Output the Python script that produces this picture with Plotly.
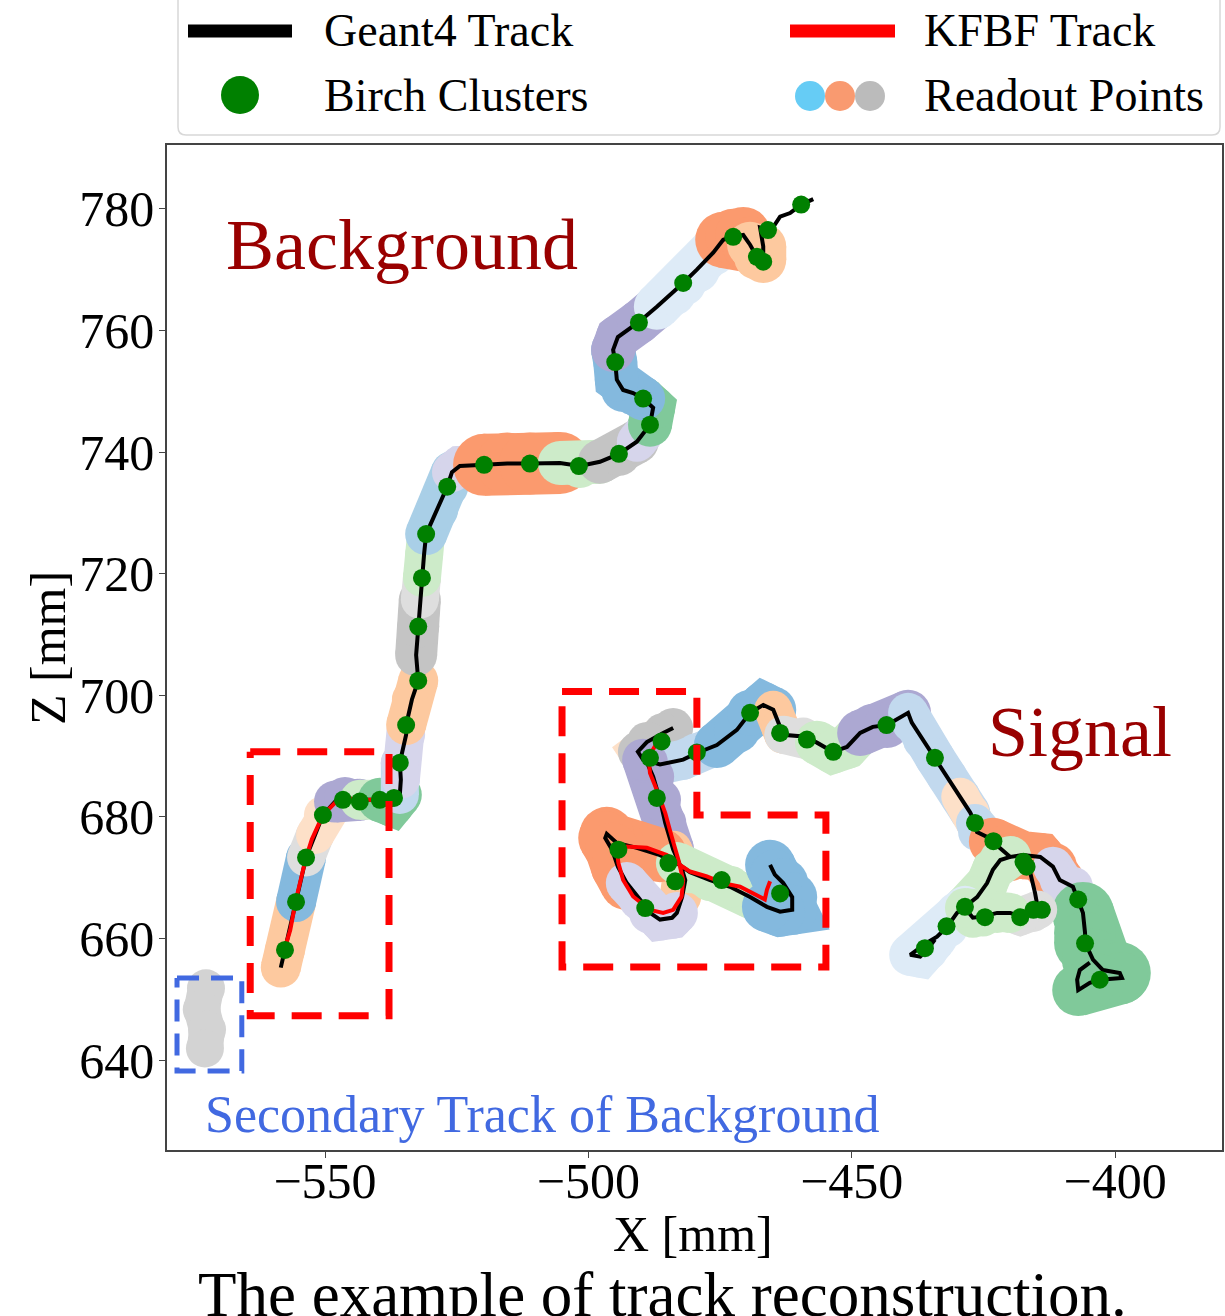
import plotly.graph_objects as go

# ---------------- data (mm) ----------------
# Background Geant4 track
BG_X = [-558.4, -557.6, -555.5, -553.6, -551.9, -550.4, -548.1, -546.2, -543.4, -539.6,
        -537.3, -535.8, -535.6, -535.8, -534.6, -534.6, -533.5, -532.3, -532.7, -532.3,
        -532.0, -531.6, -531.2, -530.8, -528.7, -526.8, -525.9, -524.4, -519.8, -515.4,
        -511.1, -505.4, -501.6, -497.8, -494.2, -490.8, -488.3, -487.7, -489.6, -491.5,
        -493.4, -494.6, -494.9, -495.3, -494.4, -490.4, -487.0, -483.9, -482.0, -479.4,
        -476.3, -474.4, -472.5, -470.6, -469.3, -468.0, -466.8, -466.8, -467.4, -465.9,
        -464.6, -463.6, -461.7, -459.6, -457.3]
BG_Z = [655.2, 658.1, 666.0, 673.3, 677.0, 680.3, 682.5, 683.1, 682.8, 682.8,
        682.0, 683.6, 686.1, 688.9, 693.5, 695.1, 699.3, 702.4, 706.6, 711.3,
        715.7, 719.3, 723.1, 726.5, 730.5, 734.3, 736.7, 737.7, 737.9, 738.1,
        738.1, 738.2, 737.7, 738.4, 739.7, 741.7, 744.5, 747.3, 748.8, 749.7,
        750.2, 751.9, 754.8, 756.8, 758.9, 761.4, 763.9, 766.2, 767.8, 770.0,
        772.8, 774.9, 775.4, 775.7, 774.1, 772.1, 771.6, 773.8, 776.9, 776.5,
        777.4, 778.7, 779.3, 780.7, 781.6]

# Signal Geant4 track: main part and branches
S1_X = [-483.9, -485.8, -488.9, -490.6, -489.6, -486.4, -482.0, -479.4, -475.6, -471.8,
        -469.3, -466.8, -464.9, -463.6, -463.0, -459.2, -456.6, -453.6, -450.9, -448.4,
        -446.0, -443.3, -440.8, -439.3, -438.6, -436.5, -434.2, -431.9, -429.4, -427.5,
        -426.6, -426.2, -424.3, -423.2, -421.3, -419.9, -417.5, -414.2, -411.8, -410.5,
        -408.0, -407.0, -406.1, -405.7, -405.7, -404.2, -402.3, -399.1, -398.7, -402.9,
        -404.8, -407.0, -407.2, -406.7, -404.8]
S1_Z = [694.6, 693.8, 692.3, 690.7, 689.4, 688.6, 689.4, 690.5, 691.8, 694.3,
        697.1, 698.4, 697.6, 694.8, 693.5, 693.2, 692.2, 690.7, 691.5, 693.8,
        694.8, 695.1, 696.4, 697.1, 695.5, 692.7, 689.7, 686.6, 683.3, 680.7,
        679.0, 677.5, 676.7, 675.9, 674.6, 673.4, 673.7, 673.4, 671.8, 669.6,
        668.5, 666.4, 664.2, 660.9, 659.3, 656.5, 654.8, 654.3, 653.5, 653.2,
        652.7, 651.5, 653.2, 654.8, 656.0]
S2_X = [-419.9, -421.8, -423.2, -424.3, -426.2, -428.5, -430.0, -431.9, -433.8, -435.7,
        -437.6, -438.9, -437.0, -435.7, -434.2]
S2_Z = [673.4, 672.9, 671.3, 669.1, 666.8, 665.2, 664.2, 661.9, 660.3, 659.3,
        658.1, 657.3, 657.0, 658.1, 659.8]
S3_X = [-417.5, -416.1, -415.2, -414.6, -415.6, -418.0, -419.9, -422.4, -425.1, -427.0, -428.5]
S3_Z = [673.7, 670.8, 667.5, 664.7, 664.2, 663.6, 664.2, 664.2, 663.6, 663.4, 665.0]
S4_X = [-465.5, -464.6, -463.0, -461.3, -461.3, -463.6, -466.1, -469.3, -473.1, -476.9,
        -480.7, -483.2, -486.4, -490.8, -494.6, -496.5, -496.8, -495.5, -494.4, -492.7,
        -490.2, -488.3, -486.4, -484.1, -483.2, -482.2, -481.6, -482.2, -483.9, -485.4,
        -486.4, -487.7, -488.9, -489.6]
S4_Z = [672.1, 670.5, 669.1, 666.8, 664.7, 664.4, 665.2, 666.8, 668.5, 669.6,
        670.9, 672.4, 673.7, 674.9, 675.7, 677.2, 676.5, 674.6, 671.8, 669.1,
        666.4, 664.2, 663.1, 663.4, 664.2, 666.8, 669.6, 671.3, 674.6, 679.0,
        682.8, 686.6, 689.0, 689.4]

# KFBF reconstructed tracks
KF_BG_X = [-558.0, -556.6, -555.5, -554.7, -553.6, -552.5, -550.4, -548.1, -546.2, -543.4, -540.5, -537.7]
KF_BG_Z = [657.3, 661.4, 666.4, 669.6, 673.3, 676.3, 680.3, 682.3, 683.1, 682.8, 682.8, 682.0]
KF_SIG_X = [-485.1, -487.0, -488.6, -488.3, -487.0, -485.4, -484.2, -482.9, -482.0, -482.3,
            -483.9, -485.8, -488.3, -491.5, -493.4, -494.3, -494.6, -492.7, -488.9, -485.1,
            -482.6, -480.7, -477.5, -474.4, -471.2, -468.7, -466.5, -466.1, -465.5]
KF_SIG_Z = [693.5, 692.1, 689.9, 687.2, 684.4, 680.6, 676.8, 672.9, 669.6, 666.9,
            664.7, 664.2, 664.7, 666.9, 669.6, 672.4, 674.6, 675.1, 674.9, 673.7,
            672.1, 671.0, 670.2, 669.1, 668.5, 667.4, 666.4, 668.0, 669.4]

# Birch clusters
CL_X = [-557.6, -555.5, -553.6, -550.4, -546.6, -543.4, -539.6, -536.9, -535.8, -534.6,
        -532.3, -532.3, -531.6, -530.8, -526.8, -519.8, -511.1, -501.8, -494.2, -488.3,
        -489.6, -494.9, -490.4, -482.0, -472.5, -468.0, -466.8, -465.9, -459.6,
        -486.1, -488.3, -479.4, -469.3, -463.6, -458.5, -453.5, -487.0, -494.3, -484.8,
        -483.5, -489.2, -474.7, -463.6, -443.4, -434.2, -426.6, -423.1, -417.4, -416.8,
        -407.0, -405.7, -402.9, -428.5, -432.0, -436.1, -424.7, -418.0, -415.5, -413.9]
CL_Z = [658.1, 666.0, 673.3, 680.3, 682.8, 682.5, 682.8, 683.1, 688.9, 695.1,
        702.4, 711.3, 719.3, 726.5, 734.3, 737.9, 738.1, 737.7, 739.7, 744.5,
        748.8, 754.8, 761.3, 767.8, 775.4, 772.1, 771.3, 776.5, 780.7,
        692.4, 689.7, 690.6, 697.1, 693.8, 692.7, 690.7, 683.1, 674.6, 672.4,
        669.4, 665.0, 669.6, 667.4, 695.1, 689.7, 679.0, 676.0, 672.6, 671.8,
        666.4, 659.2, 653.2, 665.2, 662.0, 658.4, 663.5, 663.5, 664.7, 664.7]

# Secondary track of background (readout points)
SEC_X = [-572.6, -573.4, -572.4, -572.8]
SEC_Z = [651.8, 648.3, 645.0, 641.9]

# Readout-point groups: track, first index, last index along that track
RO_TRACK = ['bg', 'bg', 'bg', 'bg', 'bg', 'bg', 'bg', 'bg', 'bg', 'bg', 'bg', 'bg', 'bg',
            'bg', 'bg', 'bg', 'bg', 'bg', 'bg', 'bg', 'bg', 'bg', 'bg', 'bg', 'bg',
            's1', 's1', 's1', 's1', 's1', 's1', 's1', 's1', 's1', 's1', 's1', 's1', 's1', 's1', 's1',
            's2', 's2', 's3', 's3',
            's4', 's4', 's4', 's4', 's4', 's4']
RO_I0 = [0, 2, 3, 4, 6, 8, 9, 11, 12, 15, 18, 20, 21, 23, 26, 28, 31, 33, 35, 36, 38, 43, 46, 51, 54,
         1, 0, 4, 8, 12, 14, 16, 19, 23, 28, 30, 33, 38, 42, 48,
         0, 5, 3, 6,
         28, 24, 12, 19, 5, 0]
RO_I1 = [2, 3, 4, 6, 8, 9, 11, 13, 15, 17, 20, 21, 23, 26, 28, 31, 33, 35, 36, 38, 43, 46, 51, 54, 57,
         4, 3, 8, 12, 14, 16, 19, 23, 29, 30, 33, 39, 42, 47, 51,
         5, 14, 6, 10,
         33, 28, 19, 24, 11, 6]

# ---------------- styles ----------------
OR, PE, PL = '#fb9a6e', '#fdc99f', '#fde0c8'
BM, BL, BV = '#84b9de', '#c2d9ee', '#deebf7'
LM, LL = '#aca8d2', '#d6d5eb'
GM, GL = '#80c99a', '#cdebc9'
GR, GY = '#c4c4c4', '#dedede'
RO_COLOR = [PE, BM, GY, PL, LM, GL, GM, BL, LL, PE, GR, GY, GL, '#a9cfe7', LL, OR, GL, GR, LL, GM, BM, LM, BV, OR, PE,
            PL, GR, BL, BM, PE, GY, GL, LM, BL, PL, BL, OR, LL, GM, GM,
            GL, BV, GY, GL,
            LM, PE, OR, LL, GL, BM]
RO_WIDTH = [40, 40, 38, 38, 42, 40, 44, 38, 38, 40, 42, 38, 38, 42, 40, 62, 44, 44, 40, 44, 44, 44, 46, 56, 46,
            38, 40, 40, 46, 38, 38, 44, 46, 40, 38, 38, 48, 40, 62, 52,
            42, 42, 38, 40,
            42, 38, 54, 42, 42, 50]

SERIF = 'Liberation Serif, Times New Roman, serif'
tracks = {'bg': (BG_X, BG_Z), 's1': (S1_X, S1_Z), 's2': (S2_X, S2_Z),
          's3': (S3_X, S3_Z), 's4': (S4_X, S4_Z)}

fig = go.Figure()

# readout points
for t, i0, i1, c, w in zip(RO_TRACK, RO_I0, RO_I1, RO_COLOR, RO_WIDTH):
    xs, zs = tracks[t]
    fig.add_trace(go.Scatter(x=xs[i0:i1 + 1], y=zs[i0:i1 + 1], mode='lines+markers',
                             line=dict(color=c, width=w), marker=dict(color=c, size=w),
                             hoverinfo='skip', showlegend=False))
fig.add_trace(go.Scatter(x=SEC_X, y=SEC_Z, mode='lines+markers',
                         line=dict(color='#d3d3d3', width=36), marker=dict(color='#d3d3d3', size=38),
                         hoverinfo='skip', showlegend=False))

# Geant4 tracks
for t in ['bg', 's1', 's2', 's3', 's4']:
    xs, zs = tracks[t]
    fig.add_trace(go.Scatter(x=xs, y=zs, mode='lines', line=dict(color='black', width=4),
                             name='Geant4 Track', showlegend=False))
# KFBF tracks
for xs, zs in [(KF_BG_X, KF_BG_Z), (KF_SIG_X, KF_SIG_Z)]:
    fig.add_trace(go.Scatter(x=xs, y=zs, mode='lines', line=dict(color='#ff0000', width=4),
                             name='KFBF Track', showlegend=False))
# Birch clusters
fig.add_trace(go.Scatter(x=CL_X, y=CL_Z, mode='markers', marker=dict(color='#008000', size=18),
                         name='Birch Clusters', showlegend=False))

# dashed boxes
fig.add_trace(go.Scatter(x=[-564.2, -537.85, -537.85, -564.2, -564.2],
                         y=[690.7, 690.7, 647.3, 647.3, 690.7], mode='lines',
                         line=dict(color='#ff0000', width=7, dash='30px,17px'), showlegend=False, hoverinfo='skip'))
fig.add_trace(go.Scatter(x=[-505.0, -479.4, -479.4, -454.9, -454.9, -505.0, -505.0],
                         y=[700.6, 700.6, 680.3, 680.3, 655.3, 655.3, 700.6], mode='lines',
                         line=dict(color='#ff0000', width=7, dash='30px,17px'), showlegend=False, hoverinfo='skip'))
fig.add_trace(go.Scatter(x=[-578.1, -565.8, -565.8, -578.1, -578.1],
                         y=[653.5, 653.5, 638.2, 638.2, 653.5], mode='lines',
                         line=dict(color='#4169e1', width=5, dash='22px,12px'), showlegend=False, hoverinfo='skip'))

# texts
fig.add_annotation(x=-535.4, y=774.1, text='Background', showarrow=False,
                   font=dict(family=SERIF, size=72, color='#990000'))
fig.add_annotation(x=-406.7, y=694.0, text='Signal', showarrow=False,
                   font=dict(family=SERIF, size=72, color='#990000'))
fig.add_annotation(x=-508.8, y=631.0, text='Secondary Track of Background', showarrow=False,
                   font=dict(family=SERIF, size=52, color='#4169e1'))

# paper coords helpers: plot area spans 167..1222 px wide, 145..1150 px tall
def px(xp):
    return (xp - 167) / 1055.0

def py(yp):
    return (1150 - yp) / 1005.0

# axis titles
fig.add_annotation(xref='paper', yref='paper', x=px(693), y=py(1234), text='X [mm]', showarrow=False,
                   xanchor='center', yanchor='middle', font=dict(family=SERIF, size=50, color='black'))
fig.add_annotation(xref='paper', yref='paper', x=px(48), y=py(648), text='Z [mm]', showarrow=False,
                   textangle=-90, xanchor='center', yanchor='middle',
                   font=dict(family=SERIF, size=50, color='black'))

# custom legend
fig.add_shape(type='path', xref='paper', yref='paper',
              path=f'M {px(178)} {py(-20)} L {px(178)} {py(127)} Q {px(178)} {py(135)} {px(186)} {py(135)} '
                   f'L {px(1212)} {py(135)} Q {px(1220)} {py(135)} {px(1220)} {py(127)} L {px(1220)} {py(-20)}',
              line=dict(color='#d8d8d8', width=1.5), fillcolor='white')
fig.add_shape(type='line', xref='paper', yref='paper', x0=px(188), x1=px(292), y0=py(31), y1=py(31),
              line=dict(color='black', width=13))
fig.add_shape(type='line', xref='paper', yref='paper', x0=px(790), x1=px(895), y0=py(31), y1=py(31),
              line=dict(color='#ff0000', width=13))
for cx, cy, r, c in [(240, 95, 19, '#008000'), (810, 96, 15, '#66ccf5'),
                     (840, 96, 15, '#f99a70'), (870, 96, 15, '#bbbbbb')]:
    fig.add_shape(type='circle', xref='paper', yref='paper', x0=px(cx - r), x1=px(cx + r),
                  y0=py(cy + r), y1=py(cy - r), line=dict(width=0), fillcolor=c)
for tx, ty, s in [(322, 31, 'Geant4 Track'), (922, 31, 'KFBF Track'),
                  (322, 96, 'Birch Clusters'), (922, 96, 'Readout Points')]:
    fig.add_annotation(xref='paper', yref='paper', x=px(tx), y=py(ty), text=s, showarrow=False,
                       xanchor='left', yanchor='middle', font=dict(family=SERIF, size=46, color='black'))

# caption
fig.add_annotation(xref='paper', yref='paper', x=px(662), y=py(1295),
                   text='The example of track reconstruction.', showarrow=False,
                   xanchor='center', yanchor='middle', font=dict(family=SERIF, size=63, color='black'))

axis_common = dict(showgrid=False, zeroline=False, showline=True, mirror=True, linecolor='#444',
                   linewidth=1.5, ticks='outside', ticklen=6, tickcolor='#444',
                   tickfont=dict(family=SERIF, size=50, color='black'))
fig.update_layout(
    width=1225, height=1316,
    margin=dict(l=167, r=3, t=145, b=166, autoexpand=False),
    paper_bgcolor='white', plot_bgcolor='white',
    showlegend=False,
    xaxis=dict(range=[-580.0, -379.7], tickvals=[-550, -500, -450, -400], ticklabelstandoff=-20,
               **axis_common),
    yaxis=dict(range=[625.2, 790.5], tickvals=[640, 660, 680, 700, 720, 740, 760, 780], ticklabelstandoff=-5,
               **axis_common),
)

fig.write_html('out.html', config={'displayModeBar': False},
               post_script="document.body.style.margin='0px';")
